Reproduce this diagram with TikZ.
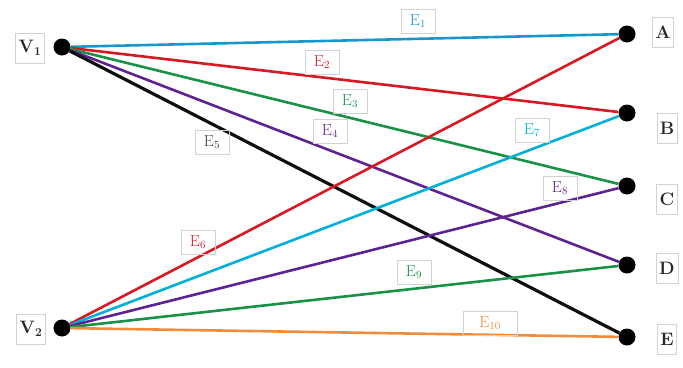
\documentclass[tikz,border=0pt]{standalone}
\begin{document}
\begin{tikzpicture}[x=1pt,y=-1pt,
  dot/.style={circle,fill=black,inner sep=0pt,minimum size=17pt},
  vlab/.style={font=\fontsize{18}{20}\selectfont\bfseries,draw=gray!35,line width=0.5pt,inner sep=3pt,minimum height=30pt,text=black!85},
  elab/.style={font=\fontsize{16}{18}\selectfont,draw=gray!35,line width=0.5pt,inner sep=2pt,minimum width=34pt,minimum height=24pt},
  edge/.style={line width=2.6pt}]
\useasboundingbox (0,0) rectangle (683,367);
\definecolor{cA}{RGB}{25,150,205}
\definecolor{cB}{RGB}{215,25,35}
\definecolor{cC}{RGB}{25,145,70}
\definecolor{cD}{RGB}{95,35,145}
\definecolor{cE}{RGB}{15,15,15}
\definecolor{cF}{RGB}{0,175,220}
\definecolor{cO}{RGB}{240,140,60}
\node[dot] (V1) at (62,47) {};
\node[dot] (V2) at (62,328) {};
\node[dot] (A) at (627,34) {};
\node[dot] (B) at (627,113) {};
\node[dot] (C) at (627,186) {};
\node[dot] (D) at (627,265) {};
\node[dot] (E) at (627,337) {};
\node[vlab] (lV1) at (30,48) {V$_{\mathbf 1}$};
\node[vlab] (lV2) at (31,329) {V$_{\mathbf 2}$};
\node[vlab] (lA) at (663,32) {A};
\node[vlab] (lB) at (667,128) {B};
\node[vlab] (lC) at (667,199) {C};
\node[vlab] (lD) at (667,268) {D};
\node[vlab] (lE) at (667,339) {E};
\draw[edge,cA] (V1) -- (A);
\draw[edge,cB] (V1) -- (B);
\draw[edge,cC] (V1) -- (C);
\draw[edge,cD] (V1) -- (D);
\draw[edge,cE,line width=3.2pt] (V1) -- (E);
\draw[edge,cB] (V2) -- (A);
\draw[edge,cF] (V2) -- (B);
\draw[edge,cD] (V2) -- (C);
\draw[edge,cC] (V2) -- (D);
\draw[edge,cO] (V2) -- (E);
\node[elab,text=cA] (e1) at (418,21) {E$_1$};
\node[elab,text=cB] (e2) at (322,62) {E$_2$};
\node[elab,text=cC] (e3) at (350,101) {E$_3$};
\node[elab,text=cD] (e4) at (330,131) {E$_4$};
\node[elab,text=black!75] (e5) at (212,142) {E$_5$};
\node[elab,text=cB] (e6) at (198,242) {E$_6$};
\node[elab,text=cF] (e7) at (532,130) {E$_7$};
\node[elab,text=cD] (e8) at (560,188) {E$_8$};
\node[elab,text=cC] (e9) at (414,272) {E$_9$};
\node[elab,text=cO,minimum width=54pt] (e10) at (490,323) {E$_{10}$};
\end{tikzpicture}
\end{document}
